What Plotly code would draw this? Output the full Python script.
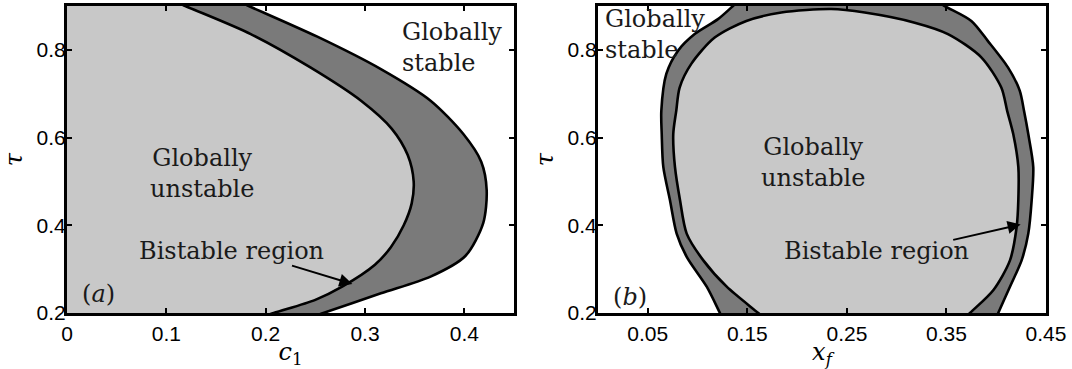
import plotly.graph_objects as go

# ---------------- data: panel (a) ----------------
a_inner_x = [0.119, 0.185, 0.245, 0.296, 0.327, 0.343, 0.349, 0.347, 0.339, 0.326, 0.310, 0.277, 0.250, 0.208]
a_inner_y = [0.900, 0.836, 0.760, 0.684, 0.620, 0.560, 0.500, 0.450, 0.400, 0.350, 0.310, 0.260, 0.230, 0.200]
a_outer_x = [0.183, 0.252, 0.316, 0.366, 0.399, 0.417, 0.4225, 0.419, 0.401, 0.366, 0.316, 0.258]
a_outer_y = [0.900, 0.830, 0.756, 0.684, 0.608, 0.545, 0.480, 0.405, 0.330, 0.283, 0.245, 0.200]
a_xticks = [0, 0.1, 0.2, 0.3, 0.4]
a_xticklabels = ["0", "0.1", "0.2", "0.3", "0.4"]

# ---------------- data: panel (b) ----------------
# outer boundary, left arc (bottom -> top) and right arc (top -> bottom)
b_outer_left_x = [0.1225, 0.1092, 0.0891, 0.0790, 0.0723, 0.0656, 0.0640, 0.0636, 0.0686, 0.0804, 0.0971, 0.1205, 0.1356]
b_outer_left_y = [0.200, 0.260, 0.328, 0.381, 0.457, 0.533, 0.608, 0.661, 0.745, 0.798, 0.836, 0.870, 0.900]
b_outer_right_x = [0.3482, 0.3750, 0.3917, 0.4118, 0.4236, 0.4280, 0.4322, 0.4372, 0.4356, 0.4322, 0.4255, 0.4138, 0.4020]
b_outer_right_y = [0.900, 0.866, 0.820, 0.760, 0.707, 0.660, 0.608, 0.533, 0.457, 0.381, 0.320, 0.260, 0.200]
# inner boundary: left side bottom -> top, over the top, right side top -> bottom
b_inner_x = [0.1610, 0.1293, 0.1058, 0.0891, 0.0824, 0.0773, 0.0756, 0.0786, 0.0820, 0.0937, 0.1172, 0.1490, 0.1841,
             0.2343, 0.2679, 0.3181, 0.3515, 0.3850, 0.4051, 0.4110, 0.4171, 0.4222, 0.4222, 0.4205, 0.4138, 0.3970, 0.3736]
b_inner_y = [0.200, 0.260, 0.320, 0.381, 0.457, 0.533, 0.608, 0.661, 0.714, 0.768, 0.828, 0.866, 0.885,
             0.893, 0.885, 0.862, 0.836, 0.783, 0.714, 0.661, 0.608, 0.533, 0.457, 0.396, 0.320, 0.252, 0.200]
b_xticks = [0.05, 0.15, 0.25, 0.35, 0.45]
b_xticklabels = ["0.05", "0.15", "0.25", "0.35", "0.45"]

yticks = [0.2, 0.4, 0.6, 0.8]
yticklabels = ["0.2", "0.4", "0.6", "0.8"]
x_range = [0, 0.45]
y_range = [0.2, 0.9]

LIGHT = "#c8c8c8"
DARK = "#7a7a7a"
PAD = 0.04  # how far the closing parts of the outlines are pushed outside the axes


def extend(xs, ys):
    """Continue both ends of a boundary curve straight past the axes (so closure is hidden)."""
    def ext(p, q):
        dx, dy = p[0] - q[0], p[1] - q[1]
        t = PAD / abs(dy) if dy != 0 else 0
        return p[0] + dx * t, p[1] + dy * t
    s = ext((xs[0], ys[0]), (xs[1], ys[1]))
    e = ext((xs[-1], ys[-1]), (xs[-2], ys[-2]))
    return [s[0]] + list(xs) + [e[0]], [s[1]] + list(ys) + [e[1]]


fig = go.Figure()


def region(xs, ys, color, xa, ya):
    fig.add_trace(go.Scatter(
        x=xs, y=ys, fill="toself", fillcolor=color, mode="lines",
        line=dict(color="black", width=2.6, shape="spline", smoothing=0.8),
        xaxis=xa, yaxis=ya, hoverinfo="skip", showlegend=False))


# panel (a): regions bounded by the left edge of the axes
left = x_range[0] - PAD
for cx, cy, col in [(a_outer_x, a_outer_y, DARK), (a_inner_x, a_inner_y, LIGHT)]:
    ex, ey = extend(cx, cy)
    region([left] + ex + [left], [ey[0]] + ey + [ey[-1]], col, "x", "y")

# panel (b)
lx, ly = extend(b_outer_left_x, b_outer_left_y)
rx, ry = extend(b_outer_right_x, b_outer_right_y)
region(lx + rx, ly + ry, DARK, "x2", "y2")
ix, iy = extend(b_inner_x, b_inner_y)
region(ix, iy, LIGHT, "x2", "y2")

tickfont = dict(family="Liberation Sans, Arial, sans-serif", size=21, color="black")
axis_common = dict(
    showline=True, linewidth=3, linecolor="black", mirror="ticks",
    ticks="inside", ticklen=5, tickwidth=1.5, tickcolor="black",
    showgrid=False, zeroline=False, tickfont=tickfont, fixedrange=True,
)
titlefont = dict(family="DejaVu Serif, serif", size=24, color="black")

fig.update_layout(
    width=1072, height=369,
    margin=dict(l=67, r=26, t=6, b=56, autoexpand=False),
    paper_bgcolor="white", plot_bgcolor="white",
    xaxis=dict(domain=[0, 447 / 979], range=x_range, tickvals=a_xticks, ticktext=a_xticklabels,
               ticklabelstandoff=0, anchor="y",
               title=dict(text="<i>c</i><sub>1</sub>", font=titlefont, standoff=0), **axis_common),
    yaxis=dict(domain=[0, 1], range=y_range, tickvals=yticks, ticktext=yticklabels, anchor="x",
               ticklabelstandoff=-6,
               title=dict(text="<i>τ</i>", font=titlefont, standoff=8), **axis_common),
    xaxis2=dict(domain=[531 / 979, 1], range=x_range, tickvals=b_xticks, ticktext=b_xticklabels,
                ticklabelstandoff=0, anchor="y2",
                title=dict(text="<i>x</i><sub><i>f</i></sub>", font=titlefont, standoff=0), **axis_common),
    yaxis2=dict(domain=[0, 1], range=y_range, tickvals=yticks, ticktext=yticklabels, anchor="x2",
                ticklabelstandoff=-6,
                title=dict(text="<i>τ</i>", font=titlefont, standoff=8), **axis_common),
)

afont = dict(family="DejaVu Serif, serif", size=24, color="#1a1a1a")
annotations = [
    # panel (a)
    dict(x=0.136, y=0.518, xref="x", yref="y", text="Globally<br>unstable", showarrow=False,
         align="center", xanchor="center", yanchor="middle", font=afont),
    dict(x=0.335, y=0.805, xref="x", yref="y", text="Globally<br>stable", showarrow=False,
         align="left", xanchor="left", yanchor="middle", font=afont),
    dict(x=0.1655, y=0.341, xref="x", yref="y", text="Bistable region", showarrow=False,
         xanchor="center", yanchor="middle", font=afont),
    dict(x=0.2873, y=0.266, ax=0.225, ay=0.309, xref="x", yref="y", axref="x", ayref="y",
         text="", showarrow=True, arrowhead=2, arrowsize=1.3, arrowwidth=2, arrowcolor="black"),
    dict(x=0.013, y=0.243, xref="x", yref="y", text="(<i>a</i>)", showarrow=False,
         xanchor="left", yanchor="middle", font=afont),
    # panel (b)
    dict(x=0.216, y=0.543, xref="x2", yref="y2", text="Globally<br>unstable", showarrow=False,
         align="center", xanchor="center", yanchor="middle", font=afont),
    dict(x=0.005, y=0.834, xref="x2", yref="y2", text="Globally<br>stable", showarrow=False,
         align="left", xanchor="left", yanchor="middle", font=afont),
    dict(x=0.280, y=0.341, xref="x2", yref="y2", text="Bistable region", showarrow=False,
         xanchor="center", yanchor="middle", font=afont),
    dict(x=0.4245, y=0.402, ax=0.3553, ay=0.366, xref="x2", yref="y2", axref="x2", ayref="y2",
         text="", showarrow=True, arrowhead=2, arrowsize=1.3, arrowwidth=2, arrowcolor="black"),
    dict(x=0.013, y=0.236, xref="x2", yref="y2", text="(<i>b</i>)", showarrow=False,
         xanchor="left", yanchor="middle", font=afont),
]
fig.update_layout(annotations=annotations)

fig.write_html("out.html")
